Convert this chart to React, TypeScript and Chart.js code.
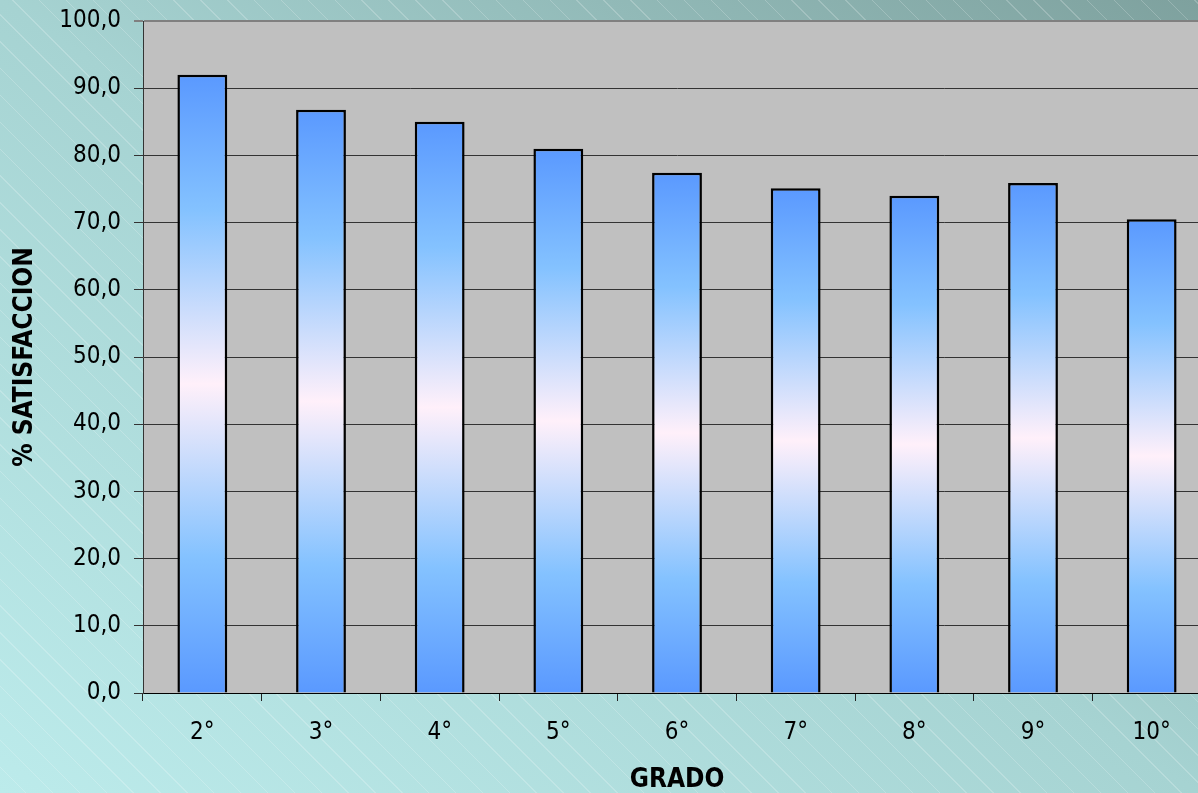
import React, { useEffect, useRef } from "react";
import { Chart, registerables } from "chart.js";

Chart.register(...registerables);

const categories = ["2°", "3°", "4°", "5°", "6°", "7°", "8°", "9°", "10°"];
const satisfaction = [92.0, 86.8, 85.0, 81.0, 77.4, 75.1, 74.0, 75.9, 70.5];
const yTicks = [0, 10, 20, 30, 40, 50, 60, 70, 80, 90, 100];
const yTitle = "% SATISFACCION";
const xTitle = "GRADO";

const FONT = '"DejaVu Sans Condensed", "DejaVu Sans", sans-serif';

const plotBg = {
  id: "plotBg",
  beforeDraw(chart: any) {
    const { ctx, chartArea } = chart;
    if (!chartArea) return;
    ctx.save();
    ctx.fillStyle = "#c0c0c0";
    ctx.fillRect(chartArea.left, chartArea.top, chartArea.right - chartArea.left, chartArea.bottom - chartArea.top);
    ctx.restore();
  },
};

export default function App() {
  const ref = useRef<HTMLCanvasElement | null>(null);

  useEffect(() => {
    if (!ref.current) return;
    const chart = new Chart(ref.current, {
      type: "bar",
      data: {
        labels: categories,
        datasets: [
          {
            data: satisfaction,
            borderColor: "#000000",
            borderWidth: 2.5,
            categoryPercentage: 1,
            barPercentage: 0.42,
            backgroundColor: (c: any) => {
              const ch = c.chart;
              if (!ch.chartArea || c.raw === undefined) return "#5b9bff";
              const ys = ch.scales.y;
              const top = ys.getPixelForValue(c.raw);
              const bot = ys.getPixelForValue(0);
              const g = ch.ctx.createLinearGradient(0, top, 0, bot);
              g.addColorStop(0, "#5a99ff");
              g.addColorStop(0.22, "#84c2ff");
              g.addColorStop(0.5, "#fff0fa");
              g.addColorStop(0.78, "#84c2ff");
              g.addColorStop(1, "#5a99ff");
              return g;
            },
          },
        ],
      },
      options: {
        responsive: false,
        animation: false,
        layout: { padding: { top: 21, right: 0, bottom: 0, left: 0 } },
        plugins: {
          legend: { display: false },
          tooltip: { enabled: false },
        },
        scales: {
          x: {
            grid: {
              offset: true,
              drawOnChartArea: false,
              drawTicks: true,
              tickLength: 8,
              color: "#222222",
              lineWidth: 1,
            },
            border: { display: true, color: "#000000", width: 1 },
            ticks: {
              color: "#000000",
              padding: 17,
              font: { family: FONT, size: 24 },
            },
            title: {
              display: true,
              text: xTitle,
              color: "#000000",
              font: { family: FONT, size: 26, weight: "bold", lineHeight: 1 },
              padding: { top: 1, bottom: 0 },
            },
            afterFit: (s: any) => {
              s.height = 100;
              s.paddingLeft = 0;
              s.paddingRight = 0;
            },
          },
          y: {
            min: 0,
            max: 100,
            afterBuildTicks: (s: any) => {
              s.ticks = yTicks.map((v) => ({ value: v }));
            },
            grid: {
              drawTicks: true,
              tickLength: 9,
              color: (c: any) => (c.tick && c.tick.value === 100 ? "#808080" : "#333333"),
              lineWidth: (c: any) => (c.tick && c.tick.value === 100 ? 2 : 1),
            },
            border: { display: true, color: "#333333", width: 1 },
            ticks: {
              color: "#000000",
              padding: 13,
              font: { family: FONT, size: 24 },
              callback: (v: any) => Number(v).toFixed(1).replace(".", ","),
            },
            title: {
              display: true,
              text: yTitle,
              color: "#000000",
              font: { family: FONT, size: 26, weight: "bold", lineHeight: 1 },
              padding: { top: 12, bottom: 0 },
            },
            afterFit: (s: any) => {
              s.width = 143;
              s.paddingTop = 0;
              s.paddingBottom = 0;
            },
          },
        },
      },
      plugins: [plotBg],
    } as any);
    return () => chart.destroy();
  }, []);

  return (
    <div
      style={{
        position: "fixed",
        left: 0,
        top: 0,
        width: 1198,
        height: 793,
        overflow: "hidden",
        background:
          "repeating-linear-gradient(45deg, rgba(255,255,255,0) 0px, rgba(255,255,255,0) 18px, rgba(255,255,255,0.2) 18px, rgba(255,255,255,0.2) 19px), linear-gradient(to top right, #bcebeb 0%, #a6d3d2 50%, #7ea19e 100%)",
      }}
    >
      <canvas ref={ref} width={1211} height={793} style={{ display: "block" }} />
    </div>
  );
}
